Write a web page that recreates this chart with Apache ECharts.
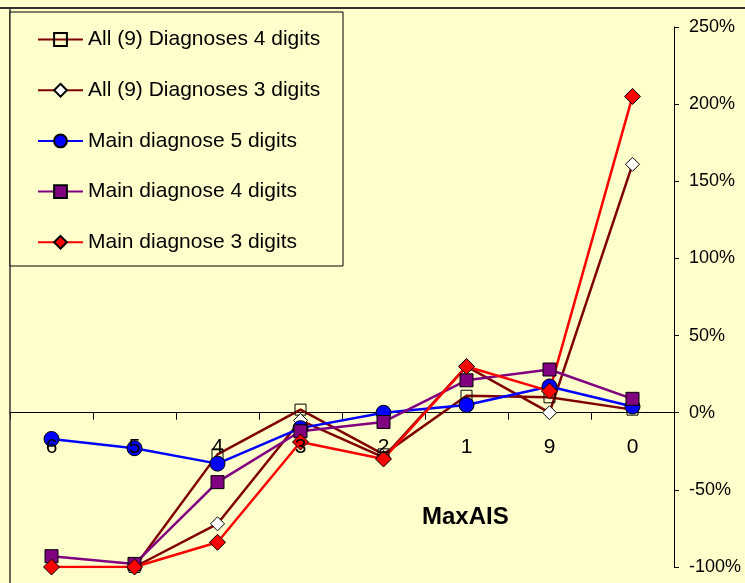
<!DOCTYPE html>
<html><head><meta charset="utf-8">
<script src="https://cdn.jsdelivr.net/npm/echarts@6/dist/echarts.min.js"></script>
<style>html,body{margin:0;padding:0;background:#FFFFCC}#c{width:745px;height:583px}</style>
</head><body><div id="c"></div>
<script>
const categories = ['6','5','4','3','2','1','9','0'];
const all4 = [null,-100,-27,2,-27,11,10,2];
const all3 = [null,-100,-72,-5,-29,30,0,161];
const main5 = [-17,-23,-33,-10,0,5,17,4];
const main4 = [-93,-98,-45,-12,-6,21,28,9];
const main3 = [-100,-100,-84,-19,-30,30,14,205];
const seriesNames = ['All (9) Diagnoses 4 digits','All (9) Diagnoses 3 digits','Main diagnose 5 digits','Main diagnose 4 digits','Main diagnose 3 digits'];
const yMin = -100, yMax = 250, yStep = 50;

const font = 'Liberation Sans, Arial, sans-serif';
function mk(name, data, color, symbol, size, fill){
  return {name, type:'line', data, symbol, symbolSize:size, showAllSymbol:true,
    lineStyle:{color, width:2.5}, itemStyle:{color:fill, borderColor:'#000', borderWidth:1},
    color, emphasis:{disabled:true}, animation:false};
}
const chart = echarts.init(document.getElementById('c'));
chart.setOption({
  backgroundColor:'#FFFFCC',
  animation:false,
  grid:{left:10, right:71, top:27, bottom:16, containLabel:false, outerBoundsMode:'none'},
  legend:{
    orient:'vertical', left:37, top:29, padding:0, itemWidth:45, itemHeight:16, itemGap:29.7,
    textStyle:{fontFamily:font, fontSize:21, color:'#000', lineHeight:16},
    data:seriesNames, selectedMode:false, z:10
  },
  xAxis:{
    type:'category', data:categories, boundaryGap:true,
    axisLine:{onZero:true, lineStyle:{color:'#000', width:1}},
    axisTick:{show:true, length:7, lineStyle:{color:'#000'}},
    axisLabel:{show:false}
  },
  yAxis:{
    type:'value', position:'right', min:yMin, max:yMax, interval:yStep,
    axisLine:{show:true, lineStyle:{color:'#000', width:1}},
    axisTick:{show:true, length:5, lineStyle:{color:'#000'}},
    splitLine:{show:false},
    axisLabel:{fontFamily:font, fontSize:18, color:'#000', margin:15, formatter:'{value}%'}
  },
  graphic:[
    {type:'line', shape:{x1:0,y1:8,x2:745,y2:8}, style:{stroke:'#333', lineWidth:2}, z:5},
    {type:'line', shape:{x1:10,y1:8,x2:10,y2:583}, style:{stroke:'#333', lineWidth:1.5}, z:5},
    {type:'rect', shape:{x:10,y:12,width:333,height:254}, style:{fill:'#FFFFCC', stroke:'#000', lineWidth:1}, z:6},
    {type:'text', left:422, top:505, style:{text:'MaxAIS', font:'bold 24px '+font, fill:'#000'}, z:6}
  ],
  series:[
    mk(seriesNames[0], all4, '#800000', 'rect', 11, 'rgba(0,0,0,0)'),
    mk(seriesNames[1], all3, '#800000', 'diamond', 14, '#FFFFFF'),
    mk(seriesNames[2], main5, '#0000FF', 'circle', 15, '#0000FF'),
    mk(seriesNames[3], main4, '#800080', 'rect', 13, '#800080'),
    mk(seriesNames[4], main3, '#FF0000', 'diamond', 16, '#FF0000'),
    {type:'custom', name:'cat-labels', data:categories.map(c=>[c,0]), z:20, silent:true, clip:false,
     renderItem:function(params, api){
       const p = api.coord([api.value(0), 0]);
       return {type:'text', z2:100, x:p[0], y:p[1]+24,
         style:{text:categories[params.dataIndex], font:'21px '+font, fill:'#000', align:'center', verticalAlign:'top'}};
     }}
  ]
});
</script></body></html>
